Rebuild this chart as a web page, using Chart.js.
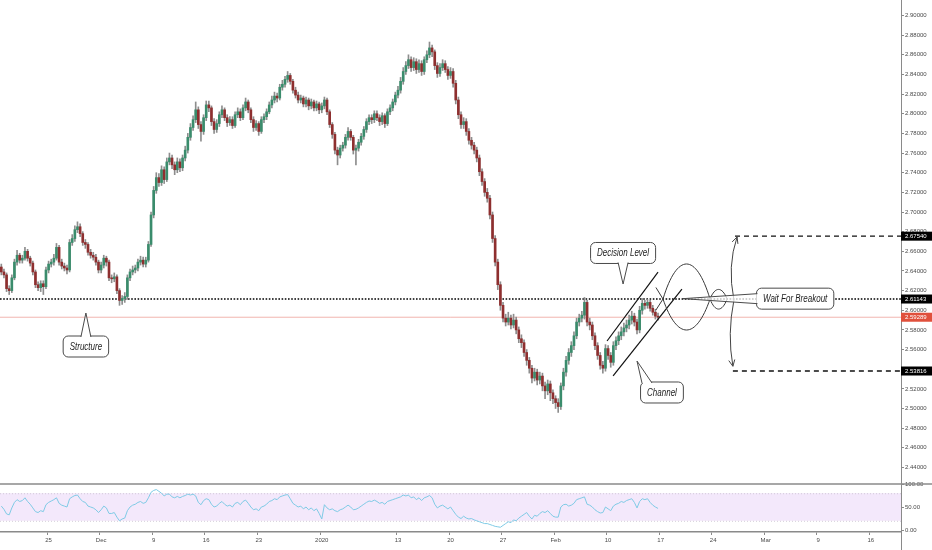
<!DOCTYPE html>
<html><head><meta charset="utf-8">
<style>html,body{margin:0;padding:0;background:#fff;overflow:hidden}canvas{display:block}</style>
<script src="https://cdn.jsdelivr.net/npm/chart.js@4.4.1/dist/chart.umd.min.js"></script>
</head><body>
<canvas id="c" width="932" height="550"></canvas>
<script>
// ---------- DATA ----------
const slotCount = 343;
const sessionHours = ['00','06','12','18'];
const firstDay = '2019-11-18', firstDayHours = ['12','18'];
const closedDays = ['2019-12-25'];
const shortDays = {'2020-01-01': ['00']};
const tickDates = ['2019-11-25','2019-12-02','2019-12-09','2019-12-16','2019-12-23','2020-01-01','2020-01-13','2020-01-20','2020-01-27','2020-02-03','2020-02-10','2020-02-17','2020-02-24','2020-03-02','2020-03-09','2020-03-16'];
const tickLabels = ['25','Dec','9','16','23','2020','13','20','27','Feb','10','17','24','Mar','9','16'];

const opens = [
2.644,2.639,2.636,2.622,2.620,2.633,2.649,2.656,2.651,2.653,
2.660,2.653,2.648,2.639,2.626,2.623,2.627,2.624,2.641,2.647,
2.649,2.653,2.664,2.649,2.645,2.643,2.641,2.669,2.673,2.682,
2.685,2.678,2.669,2.667,2.659,2.656,2.654,2.649,2.641,2.646,
2.653,2.649,2.633,2.632,2.634,2.620,2.610,2.612,2.614,2.633,
2.639,2.641,2.643,2.649,2.651,2.647,2.651,2.667,2.697,2.722,
2.735,2.730,2.743,2.733,2.751,2.755,2.748,2.743,2.751,2.745,
2.755,2.763,2.776,2.786,2.794,2.804,2.789,2.782,2.796,2.809,
2.806,2.792,2.784,2.790,2.799,2.804,2.796,2.791,2.794,2.788,
2.799,2.802,2.796,2.806,2.812,2.804,2.794,2.786,2.790,2.782,
2.794,2.797,2.802,2.809,2.814,2.818,2.816,2.827,2.830,2.835,
2.839,2.833,2.824,2.819,2.814,2.816,2.810,2.814,2.808,2.812,
2.806,2.810,2.804,2.808,2.814,2.802,2.789,2.779,2.763,2.758,
2.765,2.768,2.776,2.782,2.776,2.763,2.765,2.771,2.777,2.784,
2.792,2.796,2.794,2.800,2.796,2.792,2.798,2.790,2.802,2.806,
2.812,2.819,2.824,2.833,2.843,2.849,2.855,2.847,2.853,2.845,
2.851,2.843,2.855,2.860,2.867,2.863,2.849,2.841,2.847,2.851,
2.845,2.839,2.843,2.831,2.814,2.799,2.789,2.792,2.782,2.773,
2.768,2.763,2.755,2.741,2.731,2.720,2.714,2.697,2.673,2.649,
2.626,2.605,2.592,2.588,2.592,2.585,2.590,2.580,2.571,2.567,
2.557,2.549,2.541,2.531,2.537,2.529,2.533,2.523,2.518,2.525,
2.516,2.510,2.506,2.502,2.523,2.537,2.549,2.557,2.564,2.574,
2.588,2.592,2.595,2.608,2.588,2.585,2.574,2.564,2.554,2.544,
2.541,2.561,2.554,2.547,2.564,2.569,2.574,2.578,2.582,2.585,
2.590,2.594,2.588,2.580,2.600,2.607,2.605,2.608,2.602,2.598,
2.594];
const highs = [
2.647,2.642,2.638,2.625,2.636,2.652,2.661,2.658,2.656,2.664,
2.662,2.655,2.650,2.641,2.629,2.630,2.630,2.644,2.650,2.652,
2.657,2.668,2.666,2.652,2.648,2.646,2.672,2.677,2.686,2.690,
2.688,2.680,2.672,2.669,2.662,2.659,2.657,2.651,2.649,2.656,
2.655,2.651,2.636,2.638,2.636,2.622,2.615,2.618,2.636,2.642,
2.645,2.646,2.652,2.655,2.654,2.654,2.670,2.700,2.726,2.740,
2.739,2.747,2.746,2.755,2.760,2.758,2.751,2.755,2.754,2.758,
2.767,2.780,2.790,2.798,2.812,2.807,2.792,2.799,2.813,2.813,
2.808,2.795,2.794,2.802,2.808,2.806,2.799,2.797,2.797,2.802,
2.806,2.805,2.809,2.816,2.814,2.806,2.797,2.793,2.792,2.797,
2.800,2.805,2.812,2.818,2.822,2.821,2.830,2.834,2.838,2.843,
2.841,2.835,2.827,2.822,2.819,2.818,2.817,2.816,2.815,2.814,
2.813,2.812,2.811,2.817,2.816,2.804,2.791,2.781,2.766,2.768,
2.771,2.779,2.786,2.784,2.778,2.768,2.774,2.780,2.787,2.795,
2.799,2.799,2.803,2.803,2.799,2.801,2.800,2.805,2.809,2.815,
2.822,2.828,2.837,2.847,2.853,2.860,2.858,2.857,2.856,2.855,
2.854,2.858,2.864,2.873,2.870,2.865,2.852,2.851,2.855,2.854,
2.848,2.847,2.846,2.834,2.817,2.802,2.796,2.795,2.785,2.776,
2.771,2.766,2.758,2.744,2.734,2.724,2.717,2.700,2.676,2.652,
2.629,2.608,2.596,2.598,2.595,2.596,2.593,2.583,2.575,2.570,
2.560,2.552,2.544,2.541,2.540,2.537,2.536,2.527,2.529,2.528,
2.519,2.513,2.510,2.526,2.541,2.553,2.561,2.568,2.578,2.592,
2.596,2.599,2.613,2.610,2.592,2.588,2.577,2.567,2.557,2.548,
2.565,2.564,2.557,2.568,2.573,2.578,2.583,2.587,2.590,2.595,
2.599,2.597,2.591,2.604,2.612,2.610,2.611,2.610,2.605,2.601,
2.597];
const lows = [
2.636,2.633,2.619,2.616,2.618,2.631,2.646,2.648,2.648,2.651,
2.650,2.645,2.636,2.623,2.620,2.619,2.616,2.622,2.638,2.644,
2.646,2.651,2.646,2.642,2.640,2.637,2.639,2.666,2.670,2.679,
2.675,2.666,2.663,2.656,2.653,2.651,2.646,2.638,2.638,2.643,
2.645,2.630,2.628,2.629,2.617,2.605,2.606,2.608,2.611,2.630,
2.636,2.638,2.640,2.646,2.644,2.644,2.649,2.665,2.694,2.719,
2.726,2.727,2.729,2.731,2.748,2.744,2.738,2.740,2.741,2.742,
2.752,2.760,2.773,2.783,2.791,2.785,2.772,2.779,2.793,2.802,
2.788,2.780,2.781,2.787,2.796,2.793,2.787,2.788,2.785,2.786,
2.796,2.793,2.794,2.803,2.801,2.791,2.782,2.783,2.778,2.780,
2.791,2.794,2.800,2.806,2.811,2.812,2.814,2.824,2.827,2.832,
2.830,2.821,2.816,2.811,2.811,2.807,2.807,2.804,2.805,2.803,
2.803,2.800,2.801,2.805,2.799,2.786,2.775,2.759,2.748,2.755,
2.762,2.765,2.773,2.773,2.759,2.748,2.762,2.768,2.774,2.781,
2.789,2.790,2.791,2.793,2.788,2.789,2.786,2.788,2.799,2.803,
2.809,2.816,2.821,2.830,2.840,2.846,2.843,2.844,2.841,2.842,
2.839,2.840,2.852,2.857,2.858,2.845,2.837,2.838,2.844,2.842,
2.835,2.836,2.827,2.810,2.795,2.785,2.785,2.778,2.769,2.764,
2.759,2.751,2.737,2.727,2.716,2.710,2.693,2.669,2.645,2.621,
2.600,2.588,2.584,2.585,2.581,2.582,2.576,2.567,2.562,2.553,
2.544,2.536,2.526,2.528,2.524,2.525,2.518,2.510,2.514,2.508,
2.505,2.500,2.496,2.499,2.519,2.533,2.545,2.553,2.560,2.571,
2.584,2.588,2.591,2.584,2.580,2.570,2.560,2.550,2.540,2.536,
2.538,2.550,2.542,2.544,2.560,2.565,2.570,2.574,2.578,2.581,
2.586,2.584,2.576,2.577,2.596,2.601,2.602,2.599,2.595,2.591,
2.590];
const closes = [
2.639,2.636,2.622,2.620,2.633,2.649,2.656,2.651,2.653,2.660,
2.653,2.648,2.639,2.626,2.623,2.627,2.624,2.641,2.647,2.649,
2.653,2.664,2.649,2.645,2.643,2.641,2.669,2.673,2.682,2.685,
2.678,2.669,2.667,2.659,2.656,2.654,2.649,2.641,2.646,2.653,
2.649,2.633,2.632,2.634,2.620,2.610,2.612,2.614,2.633,2.639,
2.641,2.643,2.649,2.651,2.647,2.651,2.667,2.697,2.722,2.735,
2.730,2.743,2.733,2.751,2.755,2.748,2.743,2.751,2.745,2.755,
2.763,2.776,2.786,2.794,2.804,2.789,2.782,2.796,2.809,2.806,
2.792,2.784,2.790,2.799,2.804,2.796,2.791,2.794,2.788,2.799,
2.802,2.796,2.806,2.812,2.804,2.794,2.786,2.790,2.782,2.794,
2.797,2.802,2.809,2.814,2.818,2.816,2.827,2.830,2.835,2.839,
2.833,2.824,2.819,2.814,2.816,2.810,2.814,2.808,2.812,2.806,
2.810,2.804,2.808,2.814,2.802,2.789,2.779,2.763,2.758,2.765,
2.768,2.776,2.782,2.776,2.763,2.765,2.771,2.777,2.784,2.792,
2.796,2.794,2.800,2.796,2.792,2.798,2.790,2.802,2.806,2.812,
2.819,2.824,2.833,2.843,2.849,2.855,2.847,2.853,2.845,2.851,
2.843,2.855,2.860,2.867,2.863,2.849,2.841,2.847,2.851,2.845,
2.839,2.843,2.831,2.814,2.799,2.789,2.792,2.782,2.773,2.768,
2.763,2.755,2.741,2.731,2.720,2.714,2.697,2.673,2.649,2.626,
2.605,2.592,2.588,2.592,2.585,2.590,2.580,2.571,2.567,2.557,
2.549,2.541,2.531,2.537,2.529,2.533,2.523,2.518,2.525,2.516,
2.510,2.506,2.502,2.523,2.537,2.549,2.557,2.564,2.574,2.588,
2.592,2.595,2.608,2.588,2.585,2.574,2.564,2.554,2.544,2.541,
2.561,2.554,2.547,2.564,2.569,2.574,2.578,2.582,2.585,2.590,
2.594,2.588,2.580,2.600,2.607,2.605,2.608,2.602,2.598,2.594,
2.5929];
const rsi = [
52,45,35,33,48,60,66,62,64,70,
62,56,48,40,38,42,40,55,60,63,
66,70,58,54,52,50,68,72,75,76,
68,62,60,52,50,48,44,38,44,52,
48,36,36,38,28,20,24,26,42,50,
54,56,60,62,58,60,70,82,86,88,
84,80,74,78,78,72,70,73,70,73,
75,78,76,78,74,60,55,64,68,66,
56,50,52,58,62,56,52,54,50,58,
60,55,62,65,58,50,44,46,42,50,
52,56,62,64,68,66,72,74,76,77,
68,58,54,50,52,46,50,44,48,42,
46,36,24,55,48,44,46,42,40,44,
46,50,54,50,44,45,48,52,56,60,
63,62,65,62,58,60,56,62,64,66,
68,70,72,76,74,76,70,72,66,70,
64,70,72,75,70,56,48,52,54,50,
46,50,42,34,28,25,30,26,24,25,
22,20,18,16,14,14,12,10,8,7,
6,10,14,18,16,22,20,26,30,34,
38,30,24,32,30,36,40,38,42,36,
30,28,28,50,55,56,52,54,58,66,
68,70,72,56,54,50,44,40,37,38,
50,46,42,52,56,58,62,60,64,66,
68,60,48,62,68,66,68,60,54,50,
47];
const rsiBand = [20, 80];

// annotation anchors (slot index, price)
const keyLevel = 2.61143;
const lastPrice = 2.59289;
const targetLevels = [2.67540, 2.53816];
const targetStarts = [279.3, 278.5];
const channelUpper = [[230.6, 2.5687], [250.0, 2.6389]];
const channelLower = [[232.9, 2.5331], [259.1, 2.6216]];
const waveCross = [251.9, 269.8, 276.3];
const waveStubStart = 249.2;
const waveStubPrices = [2.6232, 2.6002];
const waveBigArc = [2.6471, 2.5799];
const waveSmallArc = [2.6012, 2.6212];
const arrowUp = [[278.9, 2.6104], [276.3, 2.6450], [280.1, 2.6746]];
const arrowDown = [[278.9, 2.6104], [276.3, 2.5758], [278.5, 2.5430]];
const callouts = [
  {text: 'Decision Level', at: [236.7, 2.6583], tip: [236.7, 2.6267], side: 'bottom'},
  {text: 'Channel', at: [251.5, 2.5163], tip: [242.0, 2.5483], side: 'top', base: 245.8},
  {text: 'Structure', at: [32.2, 2.5631], tip: [32.2, 2.5972], side: 'top', base: 32.2},
  {text: 'Wait For Breakout', at: [302.2, 2.6118], tip: [259.5, 2.6118], side: 'left'}
];
const yMin = 2.42316, yMax = 2.91578;

// ---------- CATEGORIES ----------
const categories = [];
(function () {
  let d = new Date(Date.UTC(2019, 10, 18));
  while (categories.length < slotCount) {
    const dow = d.getUTCDay();
    const key = d.toISOString().slice(0, 10);
    if (dow !== 0 && dow !== 6 && !closedDays.includes(key)) {
      let hours = shortDays[key] || sessionHours;
      if (key === firstDay) hours = firstDayHours;
      for (const h of hours) if (categories.length < slotCount) categories.push(key + ' ' + h);
    }
    d = new Date(d.getTime() + 86400000);
  }
})();
const tickMap = {};
tickDates.forEach((t, k) => { tickMap[t + ' 00'] = tickLabels[k]; });

const UP = '#3a8c6c', DOWN = '#8e2f2f', WICK = '#8d8d8d';
const bodyColors = closes.map((c, i) => c >= opens[i] ? UP : DOWN);

// ---------- OVERLAY PLUGIN ----------
function P(chart, i, p) { return [chart.scales.x.getPixelForValue(i), chart.scales.y.getPixelForValue(p)]; }
function rr(ctx, x, y, w, h, r) {
  ctx.beginPath(); ctx.moveTo(x + r, y); ctx.arcTo(x + w, y, x + w, y + h, r); ctx.arcTo(x + w, y + h, x, y + h, r);
  ctx.arcTo(x, y + h, x, y, r); ctx.arcTo(x, y, x + w, y, r); ctx.closePath();
}
function halfArc(ctx, x0, x1, yc, yp) {
  const w = x1 - x0, dy = (yp - yc) * 4 / 3;
  ctx.bezierCurveTo(x0 + 0.3 * w, yc + dy, x1 - 0.3 * w, yc + dy, x1, yc);
}
function arrowHead(ctx, from, to) {
  const ang = Math.atan2(to[1] - from[1], to[0] - from[0]);
  const L = 7;
  ctx.beginPath();
  ctx.moveTo(to[0] - L * Math.cos(ang - 0.45), to[1] - L * Math.sin(ang - 0.45));
  ctx.lineTo(to[0], to[1]);
  ctx.lineTo(to[0] - L * Math.cos(ang + 0.45), to[1] - L * Math.sin(ang + 0.45));
  ctx.stroke();
}
function drawCallout(chart, c) {
  const ctx = chart.ctx;
  ctx.font = 'italic 10px "Liberation Sans", Arial, sans-serif';
  const tw = ctx.measureText(c.text).width * 0.8;
  const w = tw + 13, h = 21;
  const [cx, cy] = P(chart, c.at[0], c.at[1]);
  const [tx, ty] = P(chart, c.tip[0], c.tip[1]);
  const bx = cx - w / 2, by = cy - h / 2;
  let b1, b2;
  if (c.side === 'bottom') { b1 = [tx - 5, by + h - 1]; b2 = [tx + 5, by + h - 1]; }
  else if (c.side === 'top') { const m = chart.scales.x.getPixelForValue(c.base); b1 = [m - 5, by + 1]; b2 = [m + 5, by + 1]; }
  else { b1 = [bx + 1, cy - 5]; b2 = [bx + 1, cy + 5]; }
  ctx.lineWidth = 1; ctx.strokeStyle = '#4a4a4a';
  rr(ctx, bx, by, w, h, 5); ctx.fillStyle = '#fff'; ctx.fill(); ctx.stroke();
  ctx.beginPath(); ctx.moveTo(b1[0], b1[1]); ctx.lineTo(tx, ty); ctx.lineTo(b2[0], b2[1]); ctx.closePath();
  ctx.fillStyle = c.side === 'left' ? 'rgba(255,255,255,0.75)' : '#fff'; ctx.fill();
  ctx.beginPath(); ctx.moveTo(b1[0], b1[1]); ctx.lineTo(tx, ty); ctx.lineTo(b2[0], b2[1]); ctx.stroke();
  ctx.fillStyle = '#1c1c1c'; ctx.textAlign = 'center'; ctx.textBaseline = 'middle';
  ctx.fillText(c.text, cx, cy + 0.5, tw);
}
function priceTag(chart, v, bg) {
  const ctx = chart.ctx, a = chart.chartArea;
  const yy = chart.scales.y.getPixelForValue(v);
  ctx.fillStyle = bg; ctx.fillRect(a.right, yy - 4.5, chart.width - a.right, 9);
  ctx.fillStyle = '#fff'; ctx.font = '6px "Liberation Sans", Arial, sans-serif';
  ctx.textAlign = 'left'; ctx.textBaseline = 'middle';
  ctx.fillText(v.toFixed(5), a.right + 4, yy + 0.5);
}

const overlay = {
  id: 'overlay',
  beforeDatasetsDraw(chart) {
    const {ctx, chartArea: a, scales} = chart;
    const y = scales.y, rs = scales.rsiAxis;
    ctx.save();
    // RSI band
    const t = rs.getPixelForValue(rsiBand[1]), b = rs.getPixelForValue(rsiBand[0]);
    ctx.fillStyle = '#f3e8fb'; ctx.fillRect(a.left, t, a.right - a.left, b - t);
    ctx.strokeStyle = '#c9c2cf'; ctx.lineWidth = 0.8; ctx.setLineDash([1, 2]);
    [t, b].forEach(v => { ctx.beginPath(); ctx.moveTo(a.left, v + 0.5); ctx.lineTo(a.right, v + 0.5); ctx.stroke(); });
    ctx.setLineDash([]);
    // last price line
    const lp = y.getPixelForValue(lastPrice);
    ctx.strokeStyle = 'rgba(230,120,110,0.55)'; ctx.lineWidth = 1;
    ctx.beginPath(); ctx.moveTo(a.left, lp); ctx.lineTo(a.right, lp); ctx.stroke();
    // key dotted level
    const kl = y.getPixelForValue(keyLevel);
    ctx.strokeStyle = '#000'; ctx.lineWidth = 1.6; ctx.setLineDash([1.6, 1.6]);
    ctx.beginPath(); ctx.moveTo(a.left, kl); ctx.lineTo(a.right, kl); ctx.stroke();
    ctx.restore();
  },
  afterDraw(chart) {
    const {ctx, chartArea: a, scales} = chart;
    const y = scales.y, rs = scales.rsiAxis;
    ctx.save();
    // pane separators
    ctx.strokeStyle = '#8a8a8a'; ctx.lineWidth = 1.5;
    ctx.beginPath(); ctx.moveTo(0, rs.top); ctx.lineTo(chart.width, rs.top); ctx.stroke();
    ctx.lineWidth = 1;
    ctx.beginPath(); ctx.moveTo(a.right + 0.5, a.bottom); ctx.lineTo(a.right + 0.5, chart.height); ctx.stroke();
    // target dashed lines
    ctx.strokeStyle = '#111'; ctx.lineWidth = 1.3; ctx.setLineDash([5, 4]);
    targetLevels.forEach((v, k) => {
      const [x0, yy] = P(chart, targetStarts[k], v);
      ctx.beginPath(); ctx.moveTo(x0, yy); ctx.lineTo(a.right, yy); ctx.stroke();
    });
    ctx.setLineDash([]);
    // channel
    ctx.strokeStyle = '#111'; ctx.lineWidth = 1.2;
    [channelUpper, channelLower].forEach(ln => {
      const p0 = P(chart, ln[0][0], ln[0][1]), p1 = P(chart, ln[1][0], ln[1][1]);
      ctx.beginPath(); ctx.moveTo(p0[0], p0[1]); ctx.lineTo(p1[0], p1[1]); ctx.stroke();
    });
    // waves
    ctx.strokeStyle = '#3a3a3a'; ctx.lineWidth = 1;
    const kl = y.getPixelForValue(keyLevel);
    const cx = waveCross.map(v => scales.x.getPixelForValue(v));
    const sx = scales.x.getPixelForValue(waveStubStart);
    for (let k = 0; k < 2; k++) {
      ctx.beginPath();
      ctx.moveTo(sx, y.getPixelForValue(waveStubPrices[k]));
      ctx.lineTo(cx[0], kl);
      halfArc(ctx, cx[0], cx[1], kl, y.getPixelForValue(waveBigArc[1 - k]));
      halfArc(ctx, cx[1], cx[2], kl, y.getPixelForValue(waveSmallArc[1 - k]));
      ctx.stroke();
    }
    // arrows
    ctx.strokeStyle = '#444'; ctx.lineWidth = 1;
    [arrowUp, arrowDown].forEach(ar => {
      const p = ar.map(q => P(chart, q[0], q[1]));
      ctx.beginPath(); ctx.moveTo(p[0][0], p[0][1]); ctx.quadraticCurveTo(p[1][0], p[1][1], p[2][0], p[2][1]); ctx.stroke();
      arrowHead(ctx, p[1], p[2]);
    });
    // callouts
    callouts.forEach(c => drawCallout(chart, c));
    // price tags on axis
    priceTag(chart, targetLevels[0], '#000');
    priceTag(chart, keyLevel, '#000');
    priceTag(chart, lastPrice, '#e0503c');
    priceTag(chart, targetLevels[1], '#000');
    ctx.restore();
  }
};

// ---------- CHART ----------
Chart.defaults.font.family = '"Liberation Sans", Arial, sans-serif';
Chart.defaults.font.size = 6;
Chart.defaults.color = '#4a4a4a';
const noPad = s => { s.paddingTop = 0; s.paddingBottom = 0; s.paddingLeft = 0; s.paddingRight = 0; };

new Chart(document.getElementById('c').getContext('2d'), {
  type: 'bar',
  data: {
    labels: categories,
    datasets: [
      {label: 'wick', data: lows.map((l, i) => [l, highs[i]]), backgroundColor: WICK, barThickness: 1, grouped: false, yAxisID: 'y', order: 2},
      {label: 'body', data: opens.map((o, i) => [o, closes[i]]), backgroundColor: bodyColors, barThickness: 2, grouped: false, yAxisID: 'y', order: 1},
      {type: 'line', label: 'RSI', data: rsi, borderColor: '#7fcbe6', borderWidth: 1, pointRadius: 0, tension: 0, fill: false, yAxisID: 'rsiAxis', order: 0}
    ]
  },
  options: {
    responsive: false, animation: false, devicePixelRatio: 1,
    layout: {padding: 0},
    plugins: {legend: {display: false}, tooltip: {enabled: false}},
    scales: {
      x: {
        offset: true,
        grid: {display: true, drawOnChartArea: false, tickLength: 3,
               color: c => (tickMap[categories[c.index]] ? '#8a8a8a' : 'rgba(0,0,0,0)')},
        border: {display: true, color: '#8a8a8a', width: 1.5},
        ticks: {autoSkip: false, maxRotation: 0, minRotation: 0, padding: 2, font: {size: 6},
                callback: (v, i) => tickMap[categories[i]] || ''},
        afterFit: s => { s.height = 18; noPad(s); }
      },
      y: {
        position: 'right', stack: 'pane', stackWeight: 484, min: yMin, max: yMax,
        grid: {display: true, drawOnChartArea: false, tickLength: 3, color: '#8a8a8a'},
        border: {display: true, color: '#8a8a8a'},
        ticks: {stepSize: 0.02, includeBounds: false, padding: 1, font: {size: 6}, callback: v => v.toFixed(5)},
        afterFit: s => { s.width = 31; noPad(s); }
      },
      rsiAxis: {
        axis: 'y', type: 'linear',
        position: 'right', stack: 'pane', stackWeight: 48, min: -4.3, max: 100,
        grid: {display: true, drawOnChartArea: false, tickLength: 3, color: '#8a8a8a'},
        border: {display: true, color: '#8a8a8a'},
        ticks: {stepSize: 50, includeBounds: false, padding: 1, font: {size: 6}, callback: v => v.toFixed(2)},
        afterFit: s => { s.width = 31; noPad(s); }
      }
    }
  },
  plugins: [overlay]
});
</script>
</body></html>
